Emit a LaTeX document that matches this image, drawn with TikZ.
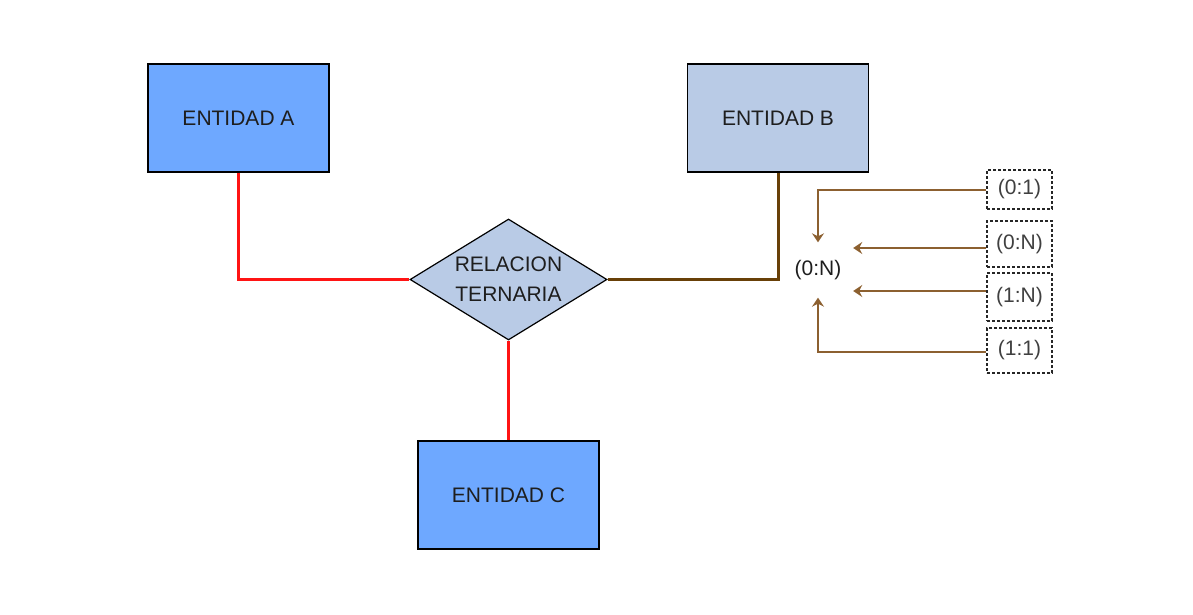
\documentclass[tikz,border=0pt]{standalone}
\usepackage{fontspec}
\setmainfont{Liberation Sans}
\usepackage{tikz}
\usetikzlibrary{arrows.meta,shapes.geometric}
\definecolor{azulfuerte}{RGB}{110,168,255}
\definecolor{azulgris}{RGB}{185,203,230}
\definecolor{rojo}{RGB}{255,20,20}
\definecolor{cafe}{RGB}{104,64,8}
\definecolor{cafeclaro}{RGB}{140,96,48}
\definecolor{texto}{RGB}{30,30,30}

\begin{document}
\begin{tikzpicture}[x=1pt,y=-1pt,>={Stealth[length=9pt,width=12pt,inset=3pt]},
        entidad/.style={draw=black,line width=1.2pt,minimum width=181pt,minimum height=108pt,
            font=\fontsize{21}{25}\selectfont,text=texto},
        relacion/.style={diamond,draw=black,line width=1.2pt,fill=azulgris,aspect=1.63,inner sep=0pt,
            minimum width=197pt,minimum height=121pt,align=center,
            font=\fontsize{21}{30}\selectfont,text=texto},
        card/.style={draw=black!85,line width=1.2pt,dash pattern=on 3pt off 2pt,minimum width=65pt,
            inner sep=0pt,font=\fontsize{21}{25}\selectfont,text=black!75},
        lado/.style={line width=3pt},
        flecha/.style={->,draw=cafeclaro,line width=2pt}]
        \useasboundingbox (0,0) rectangle (1193,615);
        \node[entidad,fill=azulfuerte] (A) at (238.5,118) {ENTIDAD A};
        \node[entidad,fill=azulgris] (B) at (778,118) {ENTIDAD B};
        \node[entidad,fill=azulfuerte] (C) at (508.5,495) {ENTIDAD C};
        \node[relacion] (R) at (508.5,279.5) {RELACION\\TERNARIA};
        % participacion de B
        \node[font=\fontsize{21}{25}\selectfont,text=texto,inner sep=0pt,
            minimum width=70pt,minimum height=55pt] (part) at (818,270) {(0:N)};
        \node[card,minimum height=39pt] (c01) at (1019.5,189.5) {(0:1)};
        \node[card,minimum height=46pt] (c0N) at (1019.5,244) {(0:N)};
        \node[card,minimum height=48pt] (c1N) at (1019.5,297) {(1:N)};
        \node[card,minimum height=45pt] (c11) at (1019.5,350.5) {(1:1)};
        % lineas
        \draw[lado,rojo] (A.south) |- (R.west);
        \draw[lado,rojo] (R.south) -- (C.north);
        \draw[lado,cafe] (R.east) -| (B.south);
        \draw[flecha] (c01.west) -| (part.north);
        \draw[flecha] ([yshift=-4pt]c0N.west) -- ([yshift=-4pt]c0N.west -| part.east);
        \draw[flecha] ([yshift=6pt]c1N.west) -- ([yshift=6pt]c1N.west -| part.east);
        \draw[flecha] ([yshift=-1.5pt]c11.west) -| (part.south);
    \end{tikzpicture}
\end{document}
